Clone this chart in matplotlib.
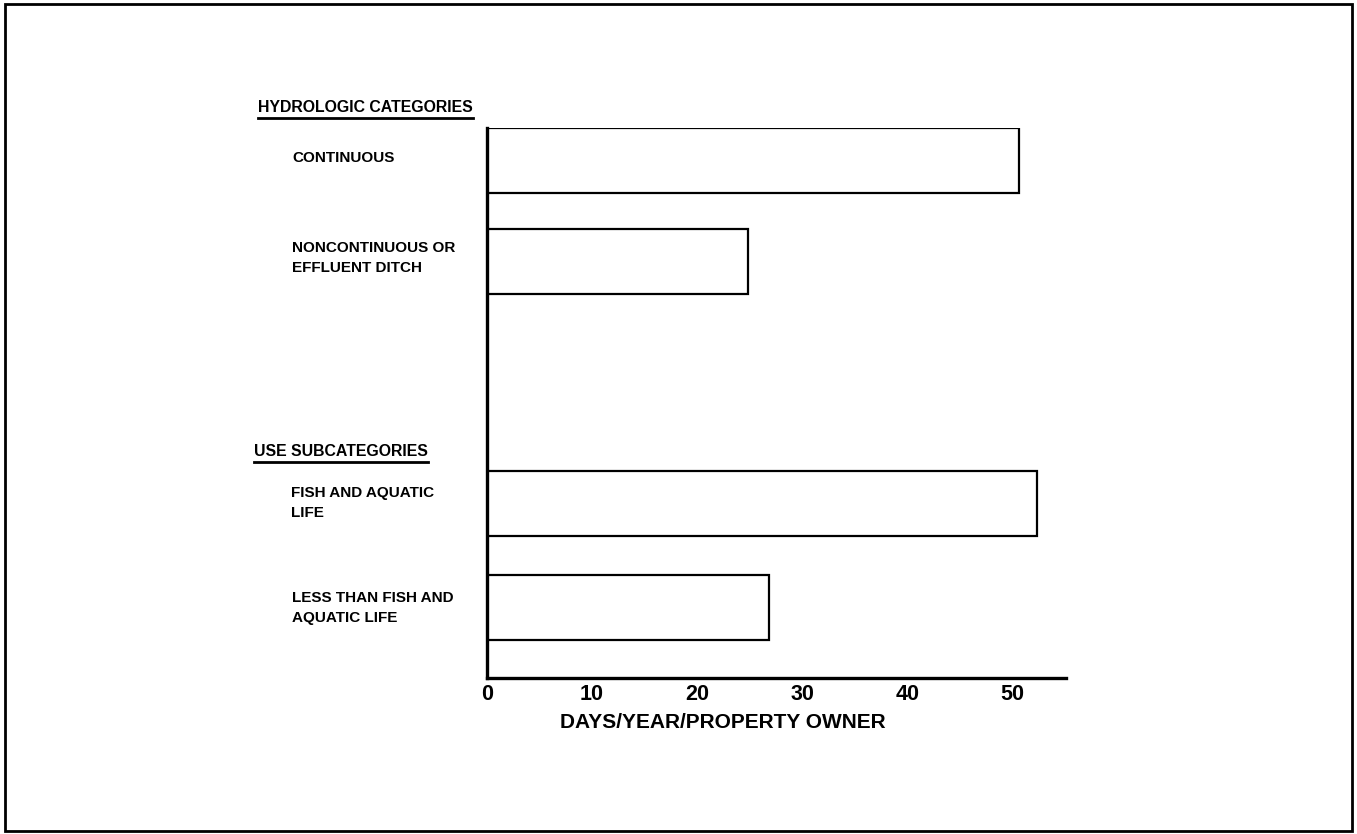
import matplotlib
matplotlib.use("Agg")
import matplotlib.pyplot as plt
from matplotlib.patches import Rectangle

matplotlib.rcParams.update({
    'font.family': 'Liberation Sans',
    'font.weight': 'bold',
})

# data
groups = ['HYDROLOGIC CATEGORIES', 'USE SUBCATEGORIES']
labels = ['CONTINUOUS', 'NONCONTINUOUS OR\nEFFLUENT DITCH',
          'FISH AND AQUATIC\nLIFE', 'LESS THAN FISH AND\nAQUATIC LIFE']
days = [50.6, 24.8, 52.3, 26.8]
xticks = [0, 10, 20, 30, 40, 50]
xlabel = 'DAYS/YEAR/PROPERTY OWNER'

# layout (bar centres in axis units, one unit = bar height)
ypos = [7.96, 6.40, 2.68, 1.08]
W, H = 1357, 834

fig = plt.figure(figsize=(W / 100, H / 100), dpi=100)
ax = fig.add_axes([487 / W, (H - 678) / H, 579 / W, 550 / H])

ax.barh(ypos, days, height=1.0, color='white', edgecolor='black', linewidth=1.6)
ax.set_xlim(0, 55.1)
ax.set_ylim(0, 8.46)
ax.spines['top'].set_visible(False)
ax.spines['right'].set_visible(False)
ax.spines['left'].set_linewidth(2.4)
ax.spines['bottom'].set_linewidth(2.4)
ax.set_yticks([])
ax.set_xticks(xticks)
ax.set_xticklabels([str(t) for t in xticks], fontsize=15.5)
ax.tick_params(axis='x', length=0, pad=4)


def px(x, y):
    return x / W, 1 - y / H


# group headers, underlined
for g, (gx, gy) in zip(groups, [(258, 108), (254, 452)]):
    t = fig.text(*px(gx, gy), g, fontsize=11.4, va='center', ha='left')
    fig.canvas.draw()
    bb = t.get_window_extent()
    fig.add_artist(plt.Line2D([bb.x0 / W, bb.x1 / W], [1 - (gy + 10) / H] * 2,
                              color='black', linewidth=2, transform=fig.transFigure))

for lab, (lx, ly) in zip(labels, [(292, 158), (292, 258), (291, 503), (292, 608)]):
    fig.text(*px(lx, ly), lab, fontsize=11, va='center', ha='left', linespacing=1.5)

fig.text(*px(723, 723), xlabel, fontsize=15, ha='center', va='center')

# outer frame
fig.add_artist(Rectangle((5 / W, 3 / H), 1347 / W, 827 / H, transform=fig.transFigure,
                         fill=False, edgecolor='black', linewidth=2))

fig.savefig('out.png', dpi=100)
